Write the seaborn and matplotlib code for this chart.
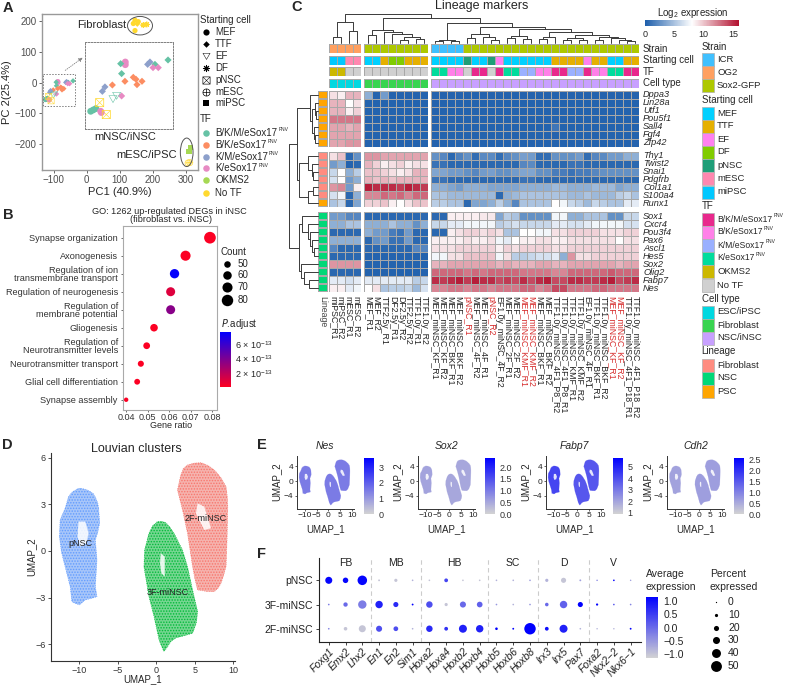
import numpy as np
import pandas as pd
import matplotlib
matplotlib.use("Agg")
import matplotlib.pyplot as plt
import seaborn as sns
from matplotlib.colors import LinearSegmentedColormap, ListedColormap, Normalize
from matplotlib.cm import ScalarMappable
from matplotlib.patches import Ellipse, Rectangle

W, H = 787, 686

# ---- panel A: PCA
pca_x = [146, 156, 141, 153, 171, 182, 146,
         -92.8, -55.8, -41.7, -91.8, -125.2, -122.4, -119.5,
         -101.8, -88.2, -79.2, -76.3, -69.8, -75.2,
         -63.7, -61.2, -112.6, -109.8,
         -87.8, -87.8, -57.9, -52.2, -91.8, -114.4, -113.7,
         -101.1, -97.2, -115.5, -108.3, 315, 310, 307, 312]
pca_y = [204, 199, 193, 191, 188, 190, 170,
         1.9, 1.1, 6.3, -9.9, -54.6, -53, -51.4,
         -23.4, -19, -14.3, -16.6, -19, -23,
         1.1, 3.9, -30.9, -25.7,
         3.9, 0.7, -2.8, -2.8, -36.4, -54.6, -56.1,
         -40.3, -36.4, -44.3, -58.5, -210, -225, -261, -260]
pca_cell = ["MEF", "MEF", "MEF", "TTF", "DF", "DF", "MEF",
            "TTF", "TTF", "TTF", "TTF", "MEF", "MEF", "MEF",
            "TTF", "TTF", "TTF", "TTF", "TTF", "TTF",
            "TTF", "TTF", "TTF", "TTF",
            "MEF", "MEF", "TTF", "TTF", "TTF", "MEF", "MEF",
            "EF", "EF", "pNSC", "pNSC", "miPSC", "miPSC", "mESC", "mESC"]
pca_tf = ["No TF"] * 7 + ["B/K/M"] * 7 + ["B/K"] * 6 + ["K/M"] * 4 + ["K"] * 7 + \
         ["B/K/M"] * 2 + ["No TF"] * 2 + ["OKMS2"] * 2 + ["No TF"] * 2
cell_markers = {"MEF": "o", "TTF": "D", "EF": "$\\bigtriangledown$", "DF": (8, 2, 0),
                "pNSC": "$\\boxtimes$", "mESC": "$\\oplus$", "miPSC": "s"}
tf_colors = {"B/K/M": "#66c2a5", "B/K": "#fc8d62", "K/M": "#8da0cb", "K": "#e78ac3",
             "OKMS2": "#a6d854", "No TF": "#ffd92f"}
tf_names = ["B/K/M/eSox17", "B/K/eSox17", "K/M/eSox17", "K/eSox17", "OKMS2", "No TF"]

# ---- panel B: GO
go_terms = ["Synapse organization", "Axonogenesis", "Regulation of ion\ntransmembrane transport",
            "Regulation of neurogenesis", "Regulation of\nmembrane potential", "Gliogenesis",
            "Regulation of\nNeurotransmitter levels", "Neurotransmitter transport",
            "Glial cell differentiation", "Synapse assembly"]
go_ratio = [0.0789, 0.0676, 0.0625, 0.0607, 0.0607, 0.053, 0.0496, 0.0469, 0.0452, 0.0401]
go_count = [82, 70, 65, 63, 63, 55, 51, 48, 47, 42]
go_padj = [0.1e-13, 0.1e-13, 7.6e-13, 1.0e-13, 3.6e-13, 0.1e-13, 0.1e-13, 0.1e-13, 0.1e-13, 0.1e-13]

# ---- panel C: heatmap
col_names = ["miPSC_R1", "miPSC_R2", "mESC_R1", "mESC_R2",
             "MEF_R1", "MEF_R2", "TTF2.5y_R1", "DF2.5y_R1", "DF2.5y_R2", "TTF2.5y_R2", "TTF1.0y_R1", "TTF1.0y_R2",
             "MEF_miNSC_KF_R1", "MEF_miNSC_KF_R2", "MEF_miNSC_BKF_R1", "MEF_miNSC_BKF_R2", "pNSC_R1",
             "MEF_miNSC_4F_R2", "MEF_miNSC_4F_R1", "pNSC_R2", "EF1.0y_miNSC_4F_R2", "MEF_miNSC_2F_R1",
             "MEF_miNSC_2F_R2", "MEF_miNSC_KMF_R1", "MEF_miNSC_KMF_R2", "MEF_miNSC_BKF_R1", "MEF_miNSC_BKF_R2",
             "TTF1.0y_miNSC_4F1_P8_R2", "TTF1.0y_miNSC_4F1_P8_R1", "TTF1.0y_miNSC_KMF_R1", "TTF1.0y_miNSC_KMF_R2",
             "EF1.0y_miNSC_4F_R1", "TTF1.0y_miNSC_BKF_R1", "TTF1.0y_miNSC_BKF_R2", "MEF_miNSC_KF_R1", "MEF_miNSC_KF_R2",
             "TTF1.0y_miNSC_4F1_P18_R1", "TTF1.0y_miNSC_4F1_P18_R2"]
red_cols = [16, 19, 23, 24, 34, 35]
row_names = ["Dppa3", "Lin28a", "Utf1", "Pou5f1", "Sall4", "Fgf4", "Zfp42",
             "Thy1", "Twist2", "Snai1", "Pdgfrb", "Col1a1", "S100a4", "Runx1",
             "Sox1", "Cxcr4", "Pou3f4", "Pax6", "Ascl1", "Hes5", "Sox2", "Olig2", "Fabp7", "Nes"]
low8 = [0.3] * 8
low26 = [0.3] * 26
expr = [
    [9, 8.5, 10.5, 10.5] + [4, 0.3, 3, 0.3, 0.3, 0.3, 0.3, 0.3] + low26,
    [10.5, 10.5, 8, 9] + low8 + low26,
    [10.5, 10.5, 8.5, 9.5] + low8 + low26,
    [12.5, 12.5, 12.5, 12.5] + low8 + low26,
    [11, 11, 10.5, 11] + low8 + [0.3] * 15 + [1.2] + [0.3] * 10,
    [11, 11, 11, 11] + low8 + low26,
    [11, 11, 11.5, 11.5] + low8 + low26,
    [9, 10, 0.5, 2.5] + [11.5, 11.5, 11, 11, 11, 11, 11, 11] +
    [2.5, 2, 0.5, 1.8, 2.5, 0.8, 2.2, 2.2, 0.8, 2, 2.5, 3.2, 3, 0.8, 0.8, 2.5, 2.5, 2.5, 3, 0.8, 2, 2.2, 3, 3, 4, 4],
    [3, 4, 0.3, 0.5] + [10.5, 9.5, 8.5, 9, 9.5, 8.5, 9, 9] +
    [1, 1, .5, .5, .5, .5, .5, .5, .5, .5, .5, 2, 2.2, .5, .5, .5, .5, 1, 1, .5, .5, .5, .5, .5, .5, .5],
    [6, 8, 4, 5.5] + [10, 10, 9.5, 9, 8.5, 9, 10.5, 10.5] +
    [3.5, 3.5, 3, 3, 2.5, 2, 3, 3.2, 2.5, 2.5, 3, 3.5, 3.5, 2.5, 2.5, 1.5, 1.5, 1, 1.5, 1.5, 2, 2.5, 2.5, 2.5, 2.5, 2.5],
    [6.5, 8, 3, 4] + [10.5, 10, 10.5, 10, 10.5, 10.5, 10.5, 10.5] +
    [1, 1, .5, .5, .5, .5, .5, .5, .5, .5, .5, 1, 1, .5, .5, .5, .5, .5, .5, .5, .5, .5, .5, .5, .5, .5],
    [11.5, 12, 3, 8.5] + [15.5, 15, 15, 15, 14.5, 15.5, 15, 14.5] +
    [4, 4, 3.5, 3, 4, 4, 4, 3.5, 3.5, 3.5, 3.5, 4, 4, 4, 4, 4.5, 4.5, 4, 4, 4, 4.5, 4.5, 4.5, 3.5, 4, 4],
    [6.5, 7.5, 0.5, 4] + [12, 12, 13, 12.5, 13, 12, 13, 13] +
    [5, 5, 4.5, 4.5, 4.5, 4.5, 4.5, 4.5, .5, 4, 4.5, 5, 5, 5, 5, 5, 5, 4.5, 4.5, 5, 4.5, 4.5, 4.5, 5.5, 6, 5],
    [5, 6, 0.5, 3.5] + [9.5, 9.5, 10, 8.5, 8, 9, 10, 10] +
    [5.5, 5.5, 5, 5, .5, 3.5, 3.5, 4, 5.5, 4, 2, 5, 5, 5, 5, 8, 7.5, 6, 5.5, 4.5, 6, 5.5, 5, 5, 7, 7],
    [3, 3, 2, 2] + [.5, .5, .5, .5, .5, .5, .5, .5] +
    [.5, .5, 8.5, 8.5, 8.5, 8.5, 8.8, 8.8, 3.5, 5.5, 5, 2.5, 2.5, 2.5, 2.5, 7.5, 7.5, 4, 4, 5, 5, 5, 2.5, 2.5, 6, 6],
    [4, 4, 5, 5] + [4, 4, 4, 5, 4, 4, 2.5, 4] +
    [6, 6, 7, 7, 7.5, 7.5, 7.5, 7.5, 5.5, 6, 6.5, 6, 6, 6, 6, 7, 7, 6.5, 6.5, 7, 7.5, 7.5, 7.5, 7.5, 6.5, 6.5],
    [.5, .5, .5, .5] + [4, 3, 3, 1.5, 1, 3, .5, .5] +
    [.5, .5, 8.5, 9, 9.5, 9.5, 9, 9.5, 9, 5, 5, 8, 8, 7.5, 7.5, 9, 9, 9.5, 9.5, 9.5, 9.5, 9, 9, 9, 9.5, 9.5],
    [4, 4, 4, 4] + [.5, 2.5, 3, 1, 1, 3, .5, .5] +
    [8.5, 8.5, 8.5, 8.5, 9, 8.5, 8.5, 9, 7.5, 7, 8, 8.5, 8.5, 9, 9, 8.5, 8.5, 9, 9, 9, 9, 9, 9, 8, 9, 9],
    [2, .5, .5, .5] + [.5, .5, .5, .5, .5, .5, 2, 2] +
    [9, 9, 9, 9.5, 9.5, 9.5, 9.5, 9.5, 8.5, 9.5, 9, 9.5, 9.5, 9.5, 9.5, 9, 9, 9.5, 9.5, 9.5, 9.5, 9.5, 9.5, 9.5, 9.5, 9.5],
    [.5, .5, .5, .5] + low8 +
    [7.5, 7.5, 9, 9, 10, 10, 10, 10, 7.5, 9, 5.5, 5.5, 6, 6.5, 6.5, 7, 4, 11.5, 9, 9, 9.5, 9.5, 9.5, 9.5, 9.5, 9.5],
    [11.5, 11.5, 11.5, 11.5] + low8 +
    [10.5, 10.5, 11, 11, 11, 11, 11, 11, 10.5, 11, 10.5, 10.5, 10.5, 11, 11, 10.5, 10.5, 11, 11, 11, 11, 11, 11, 10.5, 11, 11],
    [.5, .5, .5, .5] + low8 +
    [13, 13, 13, 13, 12.5, 13, 12.5, 13, 13, 13, 13, 12.5, 12.5, 12.5, 12.5, 12, 12, 13, 13, 13, 13, 13, 13.5, 13, 13, 13],
    [7, 7, 6.5, 7] + [7, 7, 7, 7, 7, 7, 5.5, 6] +
    [15, 14.5, 15, 15.5, 14.5, 15.5, 15, 15, 14, 14.5, 14, 15, 14, 15, 15.5, 14, 14, 15, 15, 14.5, 14.5, 15, 15.5, 14, 14.5, 15],
    [8.5, 8.5, 7, 7.5] + [8, 9, 5, 5.5, 5.5, 6, 4.5, 6.5] +
    [12, 12, 12.5, 12.5, 12, 12.5, 12.5, 12, 12.5, 12.5, 12.5, 13, 13, 12, 12.5, 14, 14, 12.5, 12.5, 12.5, 13, 13, 12.5, 12.5, 12.5, 12.5],
]
strain_names = ["ICR", "OG2", "Sox2-GFP"]
strain_colors = ["#40c0ff", "#ffa060", "#aec800"]
cell_names = ["MEF", "TTF", "EF", "DF", "pNSC", "mESC", "miPSC"]
cell_colors = ["#00d0ff", "#e5b000", "#ff80f0", "#80cc00", "#1f9e78", "#ff88b0", "#00c8ff"]
tfc_colors = ["#e8288c", "#ff80e8", "#9ab0ff", "#00dc9c", "#ccb800", "#d0d0d0"]
type_names = ["ESC/iPSC", "Fibroblast", "NSC/iNSC"]
type_colors = ["#00d8e0", "#38d450", "#c8a0ff"]
lineage_names = ["Fibroblast", "NSC", "PSC"]
lineage_colors = ["#ff8c80", "#00d878", "#ffa500"]
anno_strain = [1] * 4 + [2] * 8 + [0] * 4 + [2] * 22
anno_cell = [6, 6, 5, 5] + [0, 0, 1, 3, 3, 1, 1, 1] + \
            [0, 0, 0, 0, 4, 0, 0, 4, 2, 0, 0, 0, 0, 0, 0, 1, 1, 1, 1, 2, 1, 1, 0, 0, 1, 1]
anno_tf = [4, 4, 5, 5] + [5] * 8 + \
          [3, 3, 1, 1, 5, 0, 0, 5, 0, 3, 3, 2, 2, 1, 1, 0, 0, 2, 2, 0, 1, 1, 3, 3, 0, 0]
anno_type = [0] * 4 + [1] * 8 + [2] * 26
anno_lineage = [2] * 7 + [0] * 6 + [2] + [1] * 10
# dendrograms: (height, left, right), 0 is a leaf
g1_tree = (63, (16, 0, 0), (35, 0, 0))
g2_tree = (38, (22, 0, 0), (31, 0, (25, 0, (18, (8, 0, 0), (12, 0, 0)))))
g3a = (25, (14, 0, 0), (18, 0, (8, 0, 0)))
g3c = (20, (14, 0, 0), (12, 0, 0))
g3d = (32, (18, (12, 0, 0), 0),
       (24, (14, (8, 0, 0), (8, 0, 0)), (18, (8, 0, 0), (14, 0, (8, 0, (6, 0, 0))))))
g3_tree = (60, (8, (5, 0, 0), (5, 0, 0)), (46, g3a, (40, g3c, g3d)))
col_tree = (86, g1_tree, (73, g2_tree, g3_tree))
r1_tree = (22, 0, (16, (8, 0, (5, 0, 0)), (10, 0, (7, 0, 0))))
r2_tree = (55, (28, 0, (18, 0, (14, 0, 0))), (30, (14, 0, 0), 0))
r3_tree = (56, (46, 0, (28, 0, (24, 0, (18, 0, (12, 0, 0))))), (50, 0, (40, 0, (25, 0, 0))))
row_tree = (85, (63, r1_tree, r2_tree), r3_tree)

# ---- panel D/E: UMAP cluster outlines
pnsc_x = [-10.2, -9.87, -9.3, -8.78, -8.2, -7.91, -7.6, -7.48, -7.35, -7.6, -7.91, -7.7, -7.91, -7.7, -8.4, -9.22, -9.96, -10.5, -10.96, -11.17, -11.83, -12.3, -12.57, -12.48, -11.83, -11.39, -10.9]
pnsc_y = [4.0, 4.03, 3.98, 3.88, 3.7, 3.45, 3.1, 2.74, 1.78, 1.2, .71, -.58, -2.29, -2.94, -3.05, -3.15, -3.47, -3.38, -3.26, -2.29, -1.01, -.1, .92, 1.99, 2.74, 3.49, 3.8]
pnsc_hole_x = [-10.09, -9.22, -8.78, -9.09, -9.87, -10.22]
pnsc_hole_y = [1.89, 1.89, 1.14, .49, .28, .92]
f3_x = [-.5, .13, .7, 1.22, 1.8, 2.30, 3.39, 4.04, 4.70, 5.35, 5.2, 4.70, 4.0, 3.17, 2.5, 1.87, 1.4, 1.0, .65, .35, -.30, -.96, -1.61, -1.52, -.96]
f3_y = [1.6, 1.89, 1.9, 1.82, 1.5, 1.14, .06, -1.01, -2.51, -3.9, -4.6, -5.29, -5.4, -5.51, -5.6, -5.83, -6.2, -6.47, -6.1, -5.72, -4.22, -2.94, -1.01, .06, 1.14]
f3_hole_x = [.57, 1.09, 1.09, .65, .48]
f3_hole_y = [-.15, -.36, -1.65, -1.44, -.79]
f2_x = [3.5, 4.04, 4.9, 5.78, 6.7, 7.52, 8.4, 9.04, 9.2, 9.26, 9.17, 9.04, 8.7, 8.39, 8.0, 7.52, 6.5, 5.35, 5.0, 4.7, 4.04, 3.39, 2.74, 3.17]
f2_y = [5.3, 5.53, 5.65, 5.68, 5.5, 5.21, 4.7, 4.14, 3.5, 2.85, .71, -1.01, -1.6, -2.08, -2.4, -2.61, -2.6, -2.51, -1.8, -1.01, 1.14, 2.64, 3.92, 4.89]
f2_hole_x = [5.35, 6.22, 7.09, 6.22, 5.13]
f2_hole_y = [3.06, 2.85, 1.46, 1.35, 2.42]
cluster_colors = ["#619cff", "#00ba38", "#f8766d"]

# ---- panel E
e_genes = ["Nes", "Sox2", "Fabp7", "Cdh2"]
e_levels = [[1.5, 1.5, 1.5], [0.55, 0.5, 0.5], [4.2, 3.8, 3.8], [0.6, 0.65, 0.65]]
e_ranges = [(0, 3.6), (0, 2.4), (0.9, 5.8), (0, 2.6)]
e_ticks = [[0, 1, 2, 3], [0, .5, 1, 1.5, 2], [1, 2, 3, 4, 5], [0, .5, 1, 1.5, 2, 2.5]]
e_ticklabels = [["0", "1", "2", "3"], ["0.0", "0.5", "1.0", "1.5", "2.0"], ["1", "2", "3", "4", "5"],
                ["0.0", "0.5", "1.0", "1.5", "2.0", "2.5"]]

# ---- panel F
f_genes = ["Foxg1", "Emx2", "Lhx2", "En1", "En2", "Sim1", "Hoxa2", "Hoxa4", "Hoxb2", "Hoxb4", "Hoxb5", "Hoxb6",
           "Hoxb8", "Irx3", "Irx5", "Pax7", "Foxa2", "Nkx2\u22122", "Nkx6\u22121"]
f_rows = ["pNSC", "3F-miNSC", "2F-miNSC"]
f_pct = [[30, 22, 43, 3, 10, 2, 2, 13, 2, 2, 2, 2, 2, 10, 20, 3, 1, 2, 1],
         [2, 16, 37, 32, 20, 3, 27, 10, 25, 23, 2, 2, 2, 12, 32, 20, 5, 2, 2],
         [2, 12, 30, 25, 18, 2, 27, 13, 35, 32, 7, 3, 53, 13, 35, 2, 1, 1, 3]]
f_avg = [[1.1, 1.1, 1.1, -1, -1, -.8, -1, .4, -1, -1, -.8, -.8, -.6, -.8, -1, -.6, -.3, 1.1, -.6],
         [-.2, 0, -.2, .8, .7, 1.2, .3, -1, 0, .1, -.5, -.8, -.5, 0, .1, 1.2, 1.1, .2, -.3],
         [-.3, -1, -1, .3, .3, -.8, .7, .6, .8, .8, 1.2, 1.2, 1.2, 1.0, .8, -.8, -.8, -.8, 1.1]]
f_groups = ["FB", "MB", "HB", "SC", "D", "V"]
f_group_pos = [1, 4, 7.5, 11, 14, 17]
f_splits = [2.5, 5.5, 9.5, 12.5, 15.5]
pct_legend = [0, 10, 20, 30, 40, 50]

sns.set_style("white")
plt.rcParams["font.family"] = ["Liberation Sans", "DejaVu Sans"]
plt.rcParams["mathtext.default"] = "regular"
plt.rcParams["axes.unicode_minus"] = True
plt.rcParams["hatch.linewidth"] = 0.7


def px_axes(left, top, right, bottom):
    return fig.add_axes([left / W, 1 - bottom / H, (right - left) / W, (bottom - top) / H])


def px_text(x, y, s, size=7, ha="left", va="center", **kws):
    return over.text(x, y, s, fontsize=size, ha=ha, va=va, **kws)


def fnv_text(x, y, s, size=7):
    # name with a very small FNV superscript placed right after it
    t = px_text(x, y, s, size=size)
    if "eSox17" in s:
        end = t.get_window_extent(fig.canvas.get_renderer()).x1
        px_text(end + 1.2, y - 3.2, "FNV", size=3.6)


def pct_area(p):
    # dot radius is linear in percent, as in the Seurat dot plot
    return ((0.9 + 0.135 * p) * 0.72 * 1.42) ** 2


def draw_tree(node, leaves, base, top):
    # returns the position and height of the node, drawing as it goes
    if node == 0:
        return next(leaves), 0
    h, left, right = node
    p1, h1 = draw_tree(left, leaves, base, top)
    p2, h2 = draw_tree(right, leaves, base, top)
    if top:
        over.plot([p1, p1, p2, p2], [base - h1 / 3, base - h / 3, base - h / 3, base - h2 / 3], color="#3a3a3a", lw=0.7)
    else:
        over.plot([base - h1 / 3, base - h / 3, base - h / 3, base - h2 / 3], [p1, p1, p2, p2], color="#3a3a3a", lw=0.7)
    return (p1 + p2) / 2, h


def draw_clusters(ax, colors, hatch=False):
    outlines = [(pnsc_x, pnsc_y, pnsc_hole_x, pnsc_hole_y), (f3_x, f3_y, f3_hole_x, f3_hole_y),
                (f2_x, f2_y, f2_hole_x, f2_hole_y)]
    for (ox, oy, hx, hy), col in zip(outlines, colors):
        if hatch:
            ax.fill(ox, oy, facecolor=sns.light_palette(col, 5)[2], edgecolor=col, hatch="......", lw=0.5, ls=":")
        else:
            ax.fill(ox, oy, facecolor=col, edgecolor=col, lw=0.3, ls=":")
        ax.fill(hx, hy, facecolor="white", edgecolor="none", alpha=0.85)


fig = plt.figure(figsize=(W / 100, H / 100), dpi=100)
over = fig.add_axes([0, 0, 1, 1], zorder=20)
over.set_xlim(0, W)
over.set_ylim(H, 0)
over.axis("off")
over.patch.set_alpha(0)

for letter, lx, ly in [("A", 3, 8), ("B", 3, 215), ("C", 291, 7), ("D", 2, 445), ("E", 257, 445), ("F", 257, 554)]:
    px_text(lx, ly, letter, size=10.5, fontweight="bold")

# ---- A
pca = pd.DataFrame({"x": pca_x, "y": pca_y, "cell": pca_cell, "tf": pca_tf})
ax_a = px_axes(41.6, 14, 198, 170)
ax_in = px_axes(85.3, 41.7, 173.3, 129.3)
for axis, size in [(ax_a, 14), (ax_in, 24)]:
    for cell, mark in cell_markers.items():
        sub = pca[pca["cell"] == cell]
        s = size * 1.7 if str(mark).startswith("$") else size * 0.55 if mark == "D" else size
        sns.scatterplot(data=sub, x="x", y="y", hue="tf", palette=tf_colors, marker=mark, s=s,
                        ax=axis, legend=False, linewidth=0.6 if mark == (8, 2, 0) else 0)
ax_a.set_xlim(-137, 337)
ax_a.set_ylim(-284, 224)
ax_a.set_xticks([-100, 0, 100, 200, 300])
ax_a.set_yticks([-200, -100, 0, 100, 200])
ax_a.set_xlabel("")
ax_a.set_ylabel("")
ax_a.tick_params(labelsize=7, colors="#4d4d4d", length=2, width=0.6, pad=1.5, left=True, bottom=True)
for sp in ax_a.spines.values():
    sp.set_color("#999999")
    sp.set_linewidth(1)
ax_in.set_xlim(-131, -36)
ax_in.set_ylim(-76, 28)
ax_in.set_xticks([])
ax_in.set_yticks([])
ax_in.set_xlabel("")
ax_in.set_ylabel("")
for sp in ax_in.spines.values():
    sp.set_linestyle((0, (1.5, 1.5)))
    sp.set_color("#808080")
    sp.set_linewidth(0.7)
over.add_patch(Rectangle((43.3, 74), 31.4, 32, fill=False, ec="#808080", lw=0.7, ls=(0, (1.5, 1.5))))
over.annotate("", xy=(85, 56), xytext=(63, 72),
              arrowprops=dict(arrowstyle="-|>", color="#808080", lw=0.6, ls=":", mutation_scale=6))
over.add_patch(Ellipse((140, 25.7), 25, 18.5, fill=False, ec="#555555", lw=0.7))
over.add_patch(Ellipse((186.7, 152.3), 12.7, 28.5, fill=False, ec="#555555", lw=0.7))
px_text(101.5, 25.5, "Fibroblast", size=8, ha="center")
px_text(125.5, 137, "mNSC/iNSC", size=8, ha="center")
px_text(147, 154.5, "mESC/iPSC", size=8, ha="center")
px_text(120, 192, "PC1 (40.9%)", size=8, ha="center")
px_text(7.5, 92, "PC 2(25.4%)", size=8, ha="center", rotation=90)
px_text(200, 20, "Starting cell", size=7)
for (name, mark), ly in zip(cell_markers.items(), [32.3, 44, 56, 68, 80, 91.7, 103.3]):
    is_glyph = str(mark).startswith("$")
    area = 32 if is_glyph else 11 if mark == "D" else 20
    over.scatter([205.7], [ly], marker=mark, s=area, color="black", linewidths=0.7 if mark == (8, 2, 0) else 0)
    px_text(215, ly, name, size=7)
px_text(200, 119.3, "TF", size=7)
for name, key, ly in zip(tf_names, tf_colors, [133, 145, 156.7, 168.3, 180, 192.7]):
    over.scatter([205.7], [ly], s=22, color=tf_colors[key], linewidths=0)
    fnv_text(215, ly, name, size=7)

# ---- B
go = pd.DataFrame({"term": go_terms, "ratio": go_ratio, "count": go_count, "padj": go_padj})
ax_b = px_axes(122.7, 226, 217.3, 410)
padj_cmap = LinearSegmentedColormap.from_list("padj", ["#ff0020", "#0000ff"])
sns.scatterplot(data=go, x="ratio", y="term", size="count", sizes=(10, 71), size_norm=(42, 82),
                hue="padj", palette=padj_cmap, hue_norm=(0, 7.7e-13), linewidth=0, ax=ax_b, legend=False)
ax_b.set_xlim(0.0385, 0.0823)
ax_b.set_ylim(9.57, -0.65)
ax_b.set_xticks([0.04, 0.05, 0.06, 0.07, 0.08])
ax_b.set_xticklabels(["0.04", "0.05", "0.06", "0.07", "0.08"])
ax_b.set_xlabel("")
ax_b.set_ylabel("")
ax_b.tick_params(axis="x", labelsize=6.5, length=1.5, width=0.5, pad=1, bottom=True, colors="#333333")
ax_b.tick_params(axis="y", labelsize=6.6, length=1.5, width=0.5, pad=2, left=True, colors="#333333")
for lab in ax_b.get_yticklabels():
    lab.set_linespacing(0.85)
for sp in ax_b.spines.values():
    sp.set_color("#aaaaaa")
    sp.set_linewidth(0.8)
px_text(169, 211, "GO: 1262 up-regulated DEGs in iNSC", size=6.6, ha="center")
px_text(171, 220, "(fibroblast vs. iNSC)", size=6.6, ha="center")
px_text(171, 426, "Gene ratio", size=6.5, ha="center")
px_text(220.7, 252, "Count", size=7)
for cnt, ly in zip([50, 60, 70, 80], [264, 275.3, 287, 300]):
    area = 10 + (cnt - 42) / 40 * 61
    over.scatter([227], [ly], s=area, color="black", linewidths=0)
    px_text(237.7, ly, str(cnt), size=7)
px_text(220.7, 324.3, "$\\mathit{P}$.adjust", size=7)
cax_b = px_axes(220.3, 331.7, 231.3, 387.3)
cb = fig.colorbar(ScalarMappable(Normalize(0, 7.7e-13), padj_cmap), cax=cax_b)
cb.outline.set_visible(False)
cb.set_ticks([2e-13, 4e-13, 6e-13])
cb.set_ticklabels(["2 \u00d7 10$^{-13}$", "4 \u00d7 10$^{-13}$", "6 \u00d7 10$^{-13}$"])
cb.ax.tick_params(labelsize=6.5, length=0, pad=3)

# ---- C
heat_cmap = LinearSegmentedColormap.from_list("heat", ["#1d5eab", "#ffffff", "#b2102e"])
expr_arr = np.array(expr)
col_groups = [(329.3, 361, 0, 4), (364.3, 428.3, 4, 12), (431, 639.3, 12, 38)]
row_groups = [(90.7, 146.7, 0, 7), (151.7, 207.3, 7, 14), (212.3, 292.3, 14, 24)]
grid = dict(linewidths=0.6, linecolor="#a8a8a8", cbar=False, xticklabels=False, yticklabels=False)
for (top, bot, r0, r1) in row_groups:
    for (lft, rgt, c0, c1) in col_groups:
        ax = px_axes(lft, top, rgt, bot)
        sns.heatmap(expr_arr[r0:r1, c0:c1], cmap=heat_cmap, vmin=0, vmax=16, ax=ax, **grid)
    ax = px_axes(318.3, top, 327.7, bot)
    sns.heatmap(np.array(anno_lineage[r0:r1]).reshape(-1, 1), cmap=ListedColormap(lineage_colors), vmin=0, vmax=2,
                ax=ax, **{**grid, "linewidths": 0.3})
annos = [(anno_strain, strain_colors, 44, 53.3), (anno_cell, cell_colors, 55.7, 64.7),
         (anno_tf, tfc_colors, 67, 76.3), (anno_type, type_colors, 78.7, 87.7)]
for vals, cols, top, bot in annos:
    for (lft, rgt, c0, c1) in col_groups:
        ax = px_axes(lft, top, rgt, bot)
        sns.heatmap(np.array(vals[c0:c1]).reshape(1, -1), cmap=ListedColormap(cols), vmin=0, vmax=len(cols) - 1,
                    ax=ax, **grid)
col_pos = []
row_pos = []
for (lft, rgt, c0, c1) in col_groups:
    col_pos += list(lft + (np.arange(c1 - c0) + 0.5) * (rgt - lft) / (c1 - c0))
for (top, bot, r0, r1) in row_groups:
    row_pos += list(top + (np.arange(r1 - r0) + 0.5) * (bot - top) / (r1 - r0))
draw_tree(col_tree, iter(col_pos), 42.7, True)
draw_tree(row_tree, iter(row_pos), 317.5, False)
px_text(482, 6, "Lineage markers", size=9, ha="center")
for i, (name, px) in enumerate(zip(col_names, col_pos)):
    px_text(px, 296, name, size=6.3, ha="center", va="top", rotation=270,
            color="#d62b2b" if i in red_cols else "#222222")
px_text(323, 296, "Lineage", size=6.3, ha="center", va="top", rotation=270, color="#444444")
for name, py in zip(row_names, row_pos):
    px_text(643, py, name, size=6.6, style="italic")
for name, py in zip(["Strain", "Starting cell", "TF", "Cell type"], [48.7, 60.2, 71.7, 83.2]):
    px_text(643, py, name, size=7)
cax_c = px_axes(645, 20, 739, 26)
cb = fig.colorbar(ScalarMappable(Normalize(0, 16), heat_cmap), cax=cax_c, orientation="horizontal")
cb.outline.set_visible(False)
cb.set_ticks([0, 5, 10, 15])
cb.ax.tick_params(labelsize=6.5, length=0, pad=3)
px_text(693, 12.5, "Log$_2$ expression", size=7, ha="center")


def key_block(title, y_title, names, colors, ys):
    px_text(701.5, y_title, title, size=7)
    for name, col, ky in zip(names, colors, ys):
        over.add_patch(Rectangle((701.7, ky - 6.5), 12.3, 13, fc=col, ec="#b0b0b0", lw=0.5))
        fnv_text(717, ky, name, size=6.2 if "eSox17" in name else 6.8)


key_block("Strain", 46.7, strain_names, strain_colors, [59.7, 72.7, 85.7])
key_block("Starting cell", 100, cell_names, cell_colors, [113, 126, 139, 152, 165.5, 178.5, 192])
key_block("TF", 206, tf_names, tfc_colors, [219, 232, 245, 258, 271.5, 285])
key_block("Cell type", 298.7, type_names, type_colors, [312, 325, 338])
key_block("Lineage", 351.5, lineage_names, lineage_colors, [365, 378, 391])

# ---- D
ax_d = px_axes(50.7, 452.7, 235, 660.7)
draw_clusters(ax_d, cluster_colors, hatch=True)
ax_d.set_xlim(-13.7, 10.2)
ax_d.set_ylim(-7.06, 6.32)
ax_d.set_xticks([-10, -5, 0, 5, 10])
ax_d.set_yticks([-6, -3, 0, 3, 6])
ax_d.tick_params(labelsize=6.5, length=2, width=0.6, pad=1.5, colors="#333333", left=True, bottom=True)
sns.despine(ax=ax_d)
for sp in ("left", "bottom"):
    ax_d.spines[sp].set_color("#333333")
    ax_d.spines[sp].set_linewidth(0.8)
ax_d.text(-9.87, 0.5, "pNSC", fontsize=6.5, ha="center", va="center", color="#222222")
ax_d.text(1.52, -2.68, "3F-miNSC", fontsize=6.5, ha="center", va="center", color="#222222")
ax_d.text(6.43, 2.1, "2F-miNSC", fontsize=6.5, ha="center", va="center", color="#222222")
px_text(136.5, 449, "Louvian clusters", size=9, ha="center")
px_text(142.7, 679, "UMAP_1", size=7, ha="center")
px_text(31.7, 556.7, "UMAP_2", size=7, ha="center", rotation=90)

# ---- E
expr_cmap = LinearSegmentedColormap.from_list("expr", ["#d3d3d3", "#0000ff"])
e_lefts = [296.7, 417.7, 545.7, 667]
e_cbars = [363.7, 484.7, 612.7, 733.7]
for gene, levels, rng, tks, tkl, lft, cbx in zip(e_genes, e_levels, e_ranges, e_ticks, e_ticklabels, e_lefts, e_cbars):
    ax = px_axes(lft, 456, lft + 57.3, 509)
    cols = [expr_cmap((v - rng[0]) / (rng[1] - rng[0])) for v in levels]
    draw_clusters(ax, cols)
    ax.set_xlim(-13.6, 11)
    ax.set_ylim(-7.47, 6.67)
    ax.set_xticks([-10, -5, 0, 5, 10])
    ax.set_xticklabels(["\u221210", "\u22125", "0", "5", "10"])
    ax.set_yticks([-4, 0, 4])
    ax.tick_params(labelsize=6, length=1.5, width=0.5, pad=1, left=True, bottom=True, colors="#222222")
    sns.despine(ax=ax)
    for sp in ("left", "bottom"):
        ax.spines[sp].set_color("#333333")
        ax.spines[sp].set_linewidth(0.7)
    px_text(lft + 28.5, 445.7, gene, size=7.5, ha="center", style="italic")
    px_text(lft + 28.5, 529, "UMAP_1", size=7, ha="center")
    px_text(lft - 20, 482, "UMAP_2", size=7, ha="center", rotation=90)
    cax = px_axes(cbx, 457.7, cbx + 10.6, 514)
    cb = fig.colorbar(ScalarMappable(Normalize(*rng), expr_cmap), cax=cax)
    cb.outline.set_visible(False)
    cb.set_ticks(tks)
    cb.set_ticklabels(tkl)
    cb.ax.tick_params(labelsize=6.5, length=0, pad=3, colors="#333333")

# ---- F
dots = pd.DataFrame({"gene": np.tile(f_genes, 3), "row": np.repeat(f_rows, 19),
                     "pct": np.array(f_pct).ravel(), "avg": np.array(f_avg).ravel()})
ax_f = px_axes(318.7, 558.3, 640.7, 642.3)
sns.scatterplot(data=dots, x="gene", y="row", size="pct", sizes={p: pct_area(p) for p in dots["pct"].unique()},
                hue="avg", palette=expr_cmap, hue_norm=(-1.16, 1.16), linewidth=0, ax=ax_f, legend=False)
ax_f.set_xlim(-0.6, 18.6)
ax_f.set_ylim(2.56, -0.91)
ax_f.set_xlabel("")
ax_f.set_ylabel("")
for xs in f_splits:
    ax_f.axvline(xs, color="#cccccc", lw=0.8, ls=(0, (4, 3)))
for name, xp in zip(f_groups, f_group_pos):
    ax_f.text(xp, -0.72, name, fontsize=7.5, ha="center", va="center", color="#222222")
ax_f.tick_params(axis="y", labelsize=7.5, length=2, width=0.6, pad=2, left=True, colors="#222222")
ax_f.tick_params(axis="x", length=2, width=0.6, pad=1, bottom=True)
for lab in ax_f.get_xticklabels():
    lab.set(rotation=45, ha="right", rotation_mode="anchor", style="italic", fontsize=7.5, color="#222222")
sns.despine(ax=ax_f)
for sp in ("left", "bottom"):
    ax_f.spines[sp].set_color("#222222")
    ax_f.spines[sp].set_linewidth(0.8)
px_text(645.7, 574, "Average", size=7.5)
px_text(645.7, 587, "expression", size=7.5)
px_text(710, 574, "Percent", size=7.5)
px_text(710, 587, "expressed", size=7.5)
cax_f = px_axes(645.7, 596.7, 657.7, 658.3)
cb = fig.colorbar(ScalarMappable(Normalize(-1.16, 1.16), expr_cmap), cax=cax_f)
cb.outline.set_visible(False)
cb.set_ticks([-1, -.5, 0, .5, 1])
cb.set_ticklabels(["\u22121.0", "\u22120.5", "0.0", "0.5", "1.0"])
cb.ax.tick_params(labelsize=7.5, length=0, pad=4, colors="#222222")
for p, ly in zip(pct_legend, [602.3, 615, 627.7, 640, 653, 665.7]):
    over.scatter([716], [ly], s=pct_area(p), color="black", linewidths=0)
    px_text(728, ly, str(p), size=7.5, color="#222222")

fig.savefig("out.png", dpi=100)
